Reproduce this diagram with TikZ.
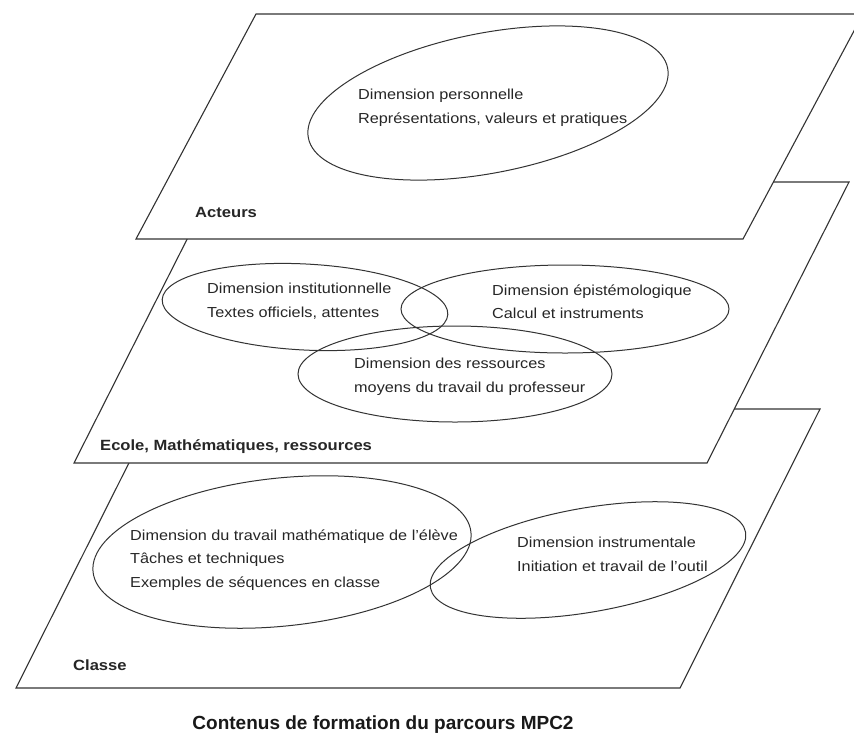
\documentclass[tikz,border=0pt]{standalone}
\usepackage{fontspec}
\setmainfont{Liberation Sans}[FakeStretch=1.12]
\newfontfamily\captionfont{Liberation Sans}
\begin{document}
\begin{tikzpicture}[x=1pt,y=-1pt,
  plane/.style={draw=black!80, line width=1.1pt, fill=white, line join=miter},
  oval/.style={draw=black!80, line width=1pt},
  txt/.style={anchor=base west, inner sep=0pt, font=\fontsize{14.5}{17}\selectfont, text=black!85},
  lbl/.style={anchor=base west, inner sep=0pt, font=\fontsize{14.8}{17}\selectfont\bfseries, text=black!85},
  captxt/.style={anchor=base, inner sep=0pt, font=\captionfont\fontsize{19}{22}\selectfont\bfseries, text=black!90}]
\clip (0,0) rectangle (854,740);
\fill[white] (0,0) rectangle (854,740);

% ---- bottom plane: Classe
\draw[plane] (156,409) -- (820,409) -- (680,688) -- (16,688) -- cycle;
\draw[oval, rotate around={6:(282,552)}] (282,552) ellipse [x radius=190, y radius=74];
\draw[oval, rotate around={10:(588,560)}] (588,560) ellipse [x radius=160, y radius=52];
\node[txt] (e1) at (130,540) {Dimension du travail mathématique de l'élève};
\node[txt] (e2) at (130,563) {Tâches et techniques};
\node[txt] (e3) at (130,587) {Exemples de séquences en classe};
\node[txt] (i1) at (517,547) {Dimension instrumentale};
\node[txt] (i2) at (517,571) {Initiation et travail de l'outil};
\node[lbl] (classe) at (73,670) {Classe};

% ---- middle plane: Ecole
\draw[plane] (216,182) -- (849,182) -- (707,463) -- (74,463) -- cycle;
\draw[oval, rotate around={-3:(305,307)}] (305,307) ellipse [x radius=143, y radius=43];
\draw[oval] (565,309) ellipse [x radius=164, y radius=44];
\draw[oval] (455,374) ellipse [x radius=157, y radius=48];
\node[txt] (n1) at (207,293) {Dimension institutionnelle};
\node[txt] (n2) at (207,317) {Textes officiels, attentes};
\node[txt] (p1) at (492,295) {Dimension épistémologique};
\node[txt] (p2) at (492,318) {Calcul et instruments};
\node[txt] (r1) at (354,368) {Dimension des ressources};
\node[txt] (r2) at (354,392) {moyens du travail du professeur};
\node[lbl] (ecole) at (100,450) {Ecole, Mathématiques, ressources};

% ---- top plane: Acteurs
\draw[plane] (256,14) -- (863,14) -- (743,239) -- (136,239) -- cycle;
\draw[oval, rotate around={11:(488,103)}] (488,103) ellipse [x radius=183, y radius=70];
\node[txt] (a1) at (358,99) {Dimension personnelle};
\node[txt] (a2) at (358,123) {Représentations, valeurs et pratiques};
\node[lbl] (acteurs) at (195,217) {Acteurs};

% ---- caption
\node[captxt] (caption) at (383,729) {Contenus de formation du parcours MPC2};
\end{tikzpicture}
\end{document}
